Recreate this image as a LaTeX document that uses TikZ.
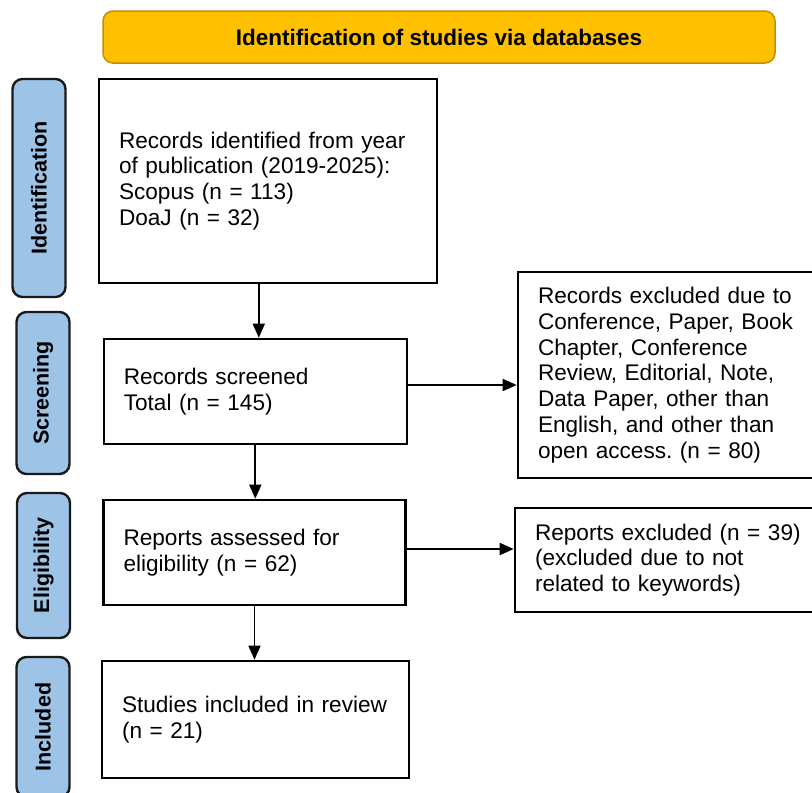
\documentclass[tikz,border=0pt]{standalone}
\usepackage{fontspec}
\setmainfont{Liberation Sans}
\usetikzlibrary{arrows.meta}
\definecolor{bannerfill}{HTML}{FFC000}
\definecolor{bannerdraw}{HTML}{BF9000}
\definecolor{phasefill}{HTML}{9DC3E6}
\frenchspacing
\begin{document}
\begin{tikzpicture}[x=1pt,y=-1pt,
  flowbox/.style={draw=black, line width=2.6pt, fill=white, rectangle,
    inner ysep=0pt, inner xsep=20pt, align=left,
    font=\fontsize{22.6}{25.8}\selectfont},
  phase/.style={draw=black!90, line width=2.4pt, fill=phasefill,
    rounded corners=10pt, rotate=90, minimum height=53pt, inner sep=0pt,
    font=\fontsize{21.5}{24}\selectfont\bfseries},
  banner/.style={draw=bannerdraw, line width=1.5pt, fill=bannerfill,
    rounded corners=10pt, minimum width=672pt, minimum height=52pt,
    font=\fontsize{22.5}{26}\selectfont\bfseries},
  arr/.style={draw=black, line width=1.7pt, -{Triangle[length=14pt,width=12pt]}}]
\useasboundingbox (0,0) rectangle (812,793);
\clip (0,0) rectangle (812,793);

% banner
\node[banner] (ban) at (439,37) {Identification of studies via databases};

% phase labels
\node[phase, minimum width=218pt] (pid) at (39,188) {Identification};
\node[phase, minimum width=162pt] (psc) at (43,393) {Screening};
\node[phase, minimum width=145pt] (pel) at (43.5,565.5) {Eligibility};
\node[phase, minimum width=140pt] (pin) at (43,727) {Included};

% boxes
\node[flowbox, text width=298pt, minimum height=204pt] (b1) at (268,181)
  {Records identified from year\\of publication (2019-2025):\\Scopus (n = 113)\\DoaJ (n = 32)};
\node[flowbox, text width=263pt, minimum height=105pt] (b2) at (255.3,391.5)
  {Records screened\\Total (n = 145)};
\node[flowbox, text width=290pt, minimum height=206pt] (b3) at (683,375)
  {Records excluded due to\\Conference, Paper, Book\\Chapter, Conference\\Review, Editorial, Note,\\Data Paper, other than\\English, and other than\\open access. (n = 80)};
\node[flowbox, text width=262pt, minimum height=105pt] (b4) at (254.5,552.5)
  {Reports assessed for\\eligibility (n = 62)};
\node[flowbox, text width=293pt, minimum height=104pt] (b5) at (681.5,560)
  {Reports excluded (n = 39)\\(excluded due to not\\related to keywords)};
\node[flowbox, text width=267pt, minimum height=117pt] (b6) at (255.5,719.5)
  {Studies included in review\\(n = 21)};

% connectors
\draw[arr] ([xshift=3.5pt]b2.north |- b1.south) -- ([xshift=3.5pt]b2.north);
\draw[arr] (b2.south) -- (b2.south |- b4.north);
\draw[arr] (b4.south) -- (b4.south |- b6.north);
\draw[arr] ([yshift=6.5pt]b2.east) -- ([yshift=6.5pt]b2.east -| b3.west);
\draw[arr] ([yshift=3.5pt]b4.east) -- ([yshift=3.5pt]b4.east -| b5.west);
\end{tikzpicture}
\end{document}
